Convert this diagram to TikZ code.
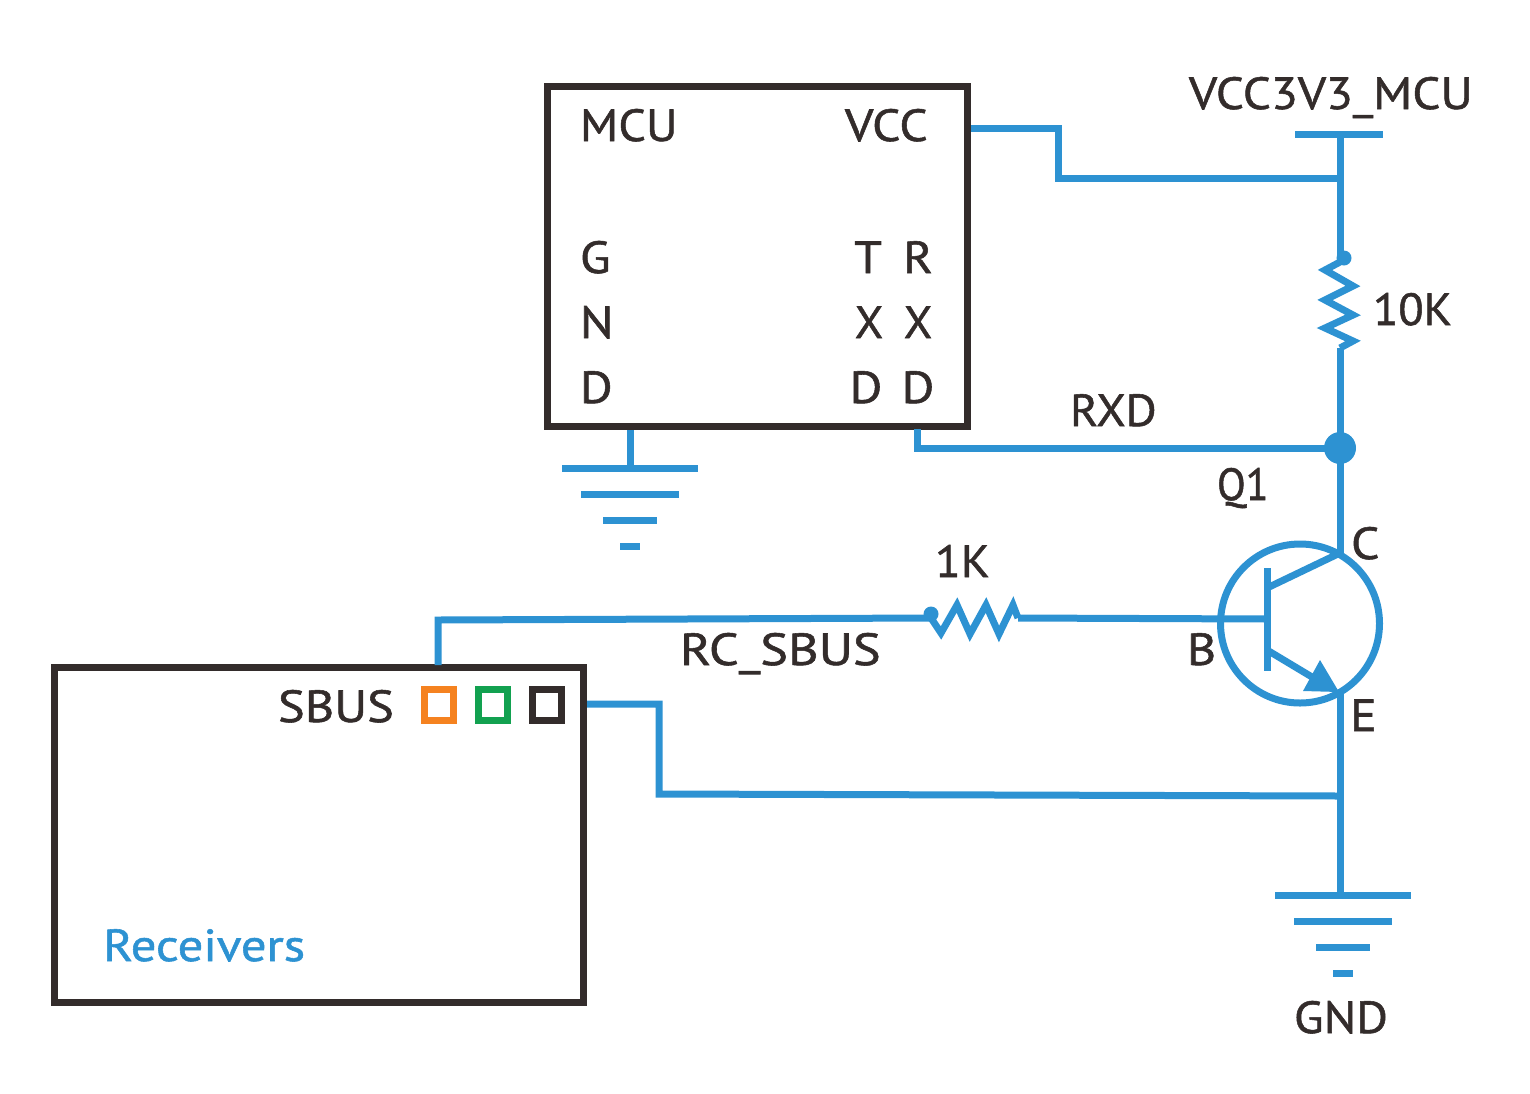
\documentclass[tikz,border=0pt]{standalone}
\usepackage{graphicx}
\usepackage{fontspec}
\setmainfont[FakeStretch=1.11,FakeBold=1.2]{PT Sans}
\definecolor{wire}{HTML}{2D92D2}
\definecolor{ink}{HTML}{332C2B}
\definecolor{sqorange}{HTML}{F58220}
\definecolor{sqgreen}{HTML}{12A150}
\tikzset{
  x=1pt,y=-1pt,
  wireline/.style={draw=wire,line width=7pt,line join=miter,miter limit=10},
  boxshape/.style={draw=ink,line width=7pt,rectangle,inner sep=0,outer sep=0},
  sq/.style={rectangle,line width=7pt,minimum width=29pt,minimum height=31pt,inner sep=0,outer sep=0},
  lbl/.style={text=ink,anchor=base west,inner sep=0,outer sep=0,font=\fontsize{45}{45}\selectfont},
  clbl/.style={lbl,anchor=base},
  dotnode/.style={circle,fill=wire,inner sep=0,outer sep=0},
}
\begin{document}
\begin{tikzpicture}
\useasboundingbox (0,0) rectangle (1530,1093);
% boxes
\node[boxshape,minimum width=420pt,minimum height=340pt] (mcu) at (757,256.5) {};
\node[boxshape,minimum width=529pt,minimum height=335pt] (rx) at (319,834.5) {};
\node[sq,draw=sqorange] (s1) at (439,705) {};
\node[sq,draw=sqgreen] (s2) at (493,705) {};
\node[sq,draw=ink] (s3) at (547,705) {};
% transistor
\node[circle,draw=wire,line width=7pt,minimum size=159pt,inner sep=0,outer sep=0] (q) at (1300,623.5) {};
% key points
\coordinate (vccpin) at (971,128);
\coordinate (vccbend1) at (1058,128);
\coordinate (vccbend2) at (1058,178);
\coordinate (vcctee) at (1340,178);
\coordinate (vcctop) at (1340,134);
\coordinate (vccl) at (1295,134);
\coordinate (vccr) at (1383,134);
\coordinate (r1top) at (1340,262);
\coordinate (r1bot) at (1340,348);
\node[dotnode,minimum size=32pt] (junc) at (1340,448) {};
\coordinate (rxdpin) at (917,429);
\coordinate (rxdbend) at (917,448);
\coordinate (cpt) at (1340,553);
\coordinate (ept) at (1339,692);
\coordinate (etop) at (1340,692);
\coordinate (bar1) at (1267,568);
\coordinate (bar2) at (1267,671);
\coordinate (gndtee) at (1340,796);
\coordinate (g2top) at (1340,895);
\coordinate (rxpwr) at (587,704);
\coordinate (rxb1) at (659,704);
\coordinate (rxb2) at (659,794);
\coordinate (sbusup) at (438,665);
\coordinate (sbusb) at (438,620);
\node[dotnode,minimum size=15pt] (r2dot) at (931,614) {};
\node[dotnode,minimum size=15pt] (r1dot) at (1344,258) {};
\coordinate (r2a) at (931,618);
\coordinate (r2b) at (1018,618);
\coordinate (bpt) at (1267,619);
% wires
\draw[wireline] (vccpin) -- (vccbend1) -- (vccbend2) -- (vcctee);
\draw[wireline] (vccl) -- (vccr);
\draw[wireline] (vcctop) -- (r1top);
\draw[wireline] (r1top) -- (1325,270) -- (1353,286) -- (1325,300) -- (1353,315) -- (1325,328) -- (1353,341) -- (r1bot);
\draw[wireline] (r1bot) -- (junc.center) -- (cpt);
\draw[wireline] (rxdpin) -- (rxdbend) -- (junc.center);
% transistor internals
\draw[wireline] (bar1) -- (bar2);
\draw[wireline] (1267,588) -- (cpt);
\draw[wireline] (1267,650) -- (1322,683);
\fill[wire] (ept) -- (1303,691) -- (1320,660) -- cycle;
\draw[wireline] (etop) -- (gndtee) -- (g2top);
\draw[wireline] (rxpwr) -- (rxb1) -- (rxb2) -- (gndtee);
% sbus
\draw[wireline] (sbusup) -- (sbusb) -- (r2a);
\draw[wireline] (r2a) -- (941,633) -- (957,605) -- (970,634) -- (986,605) -- (999,634) -- (1013,605) -- (r2b);
\draw[wireline] (r2b) -- (bpt);
% grounds
\coordinate (g1top) at (630,430);
\coordinate (g1a) at (630,468);
\draw[wireline] (g1top) -- (g1a);
\draw[wireline] (562,468) -- (698,468);
\draw[wireline] (581,494) -- (679,494);
\draw[wireline] (603,520) -- (657,520);
\draw[wireline] (620,546) -- (640,546);
\draw[wireline] (1275,895) -- (1411,895);
\draw[wireline] (1294,921) -- (1392,921);
\draw[wireline] (1316,947) -- (1370,947);
\draw[wireline] (1333,973) -- (1353,973);
% labels
\node[lbl] (tmcu) at (580,141) {\scalebox{0.97}[1]{MCU}};
\node[lbl] (tvcc) at (845,141) {VCC};
\node[lbl] (tg) at (580,273) {G};
\node[lbl] (tn) at (580,338) {N};
\node[lbl] (td) at (580,403) {D};
\node[clbl] (tt) at (868,273) {T};
\node[clbl] (tx) at (869,338) {\scalebox{0.92}[1]{X}};
\node[clbl] (td2) at (866,403) {D};
\node[clbl] (tr) at (918,273) {R};
\node[clbl] (tx2) at (918,338) {\scalebox{0.92}[1]{X}};
\node[clbl] (td3) at (918,403) {D};
\node[lbl] (tvcc3) at (1189,109) {\scalebox{0.99}[1]{VCC3V3\_MCU}};
\node[lbl] (t10k) at (1373,325) {\scalebox{0.93}[1]{10K}};
\node[lbl] (trxd) at (1070,426) {\scalebox{0.95}[1]{RXD}};
\node[lbl] (tq1) at (1217,500) {\scalebox{0.84}[1]{Q1}};
\node[lbl] (tc) at (1351,559) {C};
\node[lbl] (t1k) at (935,577) {\scalebox{0.95}[1]{1K}};
\node[lbl] (trc) at (680,665) {\scalebox{1.05}[1]{RC\_SBUS}};
\node[lbl] (tb) at (1187,665) {B};
\node[lbl] (te) at (1350,731) {E};
\node[lbl] (tsbus) at (278,722) {\scalebox{1.01}[1]{SBUS}};
\node[lbl,text=wire] (trcv) at (103,961) {\scalebox{1.015}[1]{Receivers}};
\node[lbl] (tgnd) at (1294,1033) {\scalebox{0.97}[1]{GND}};
\end{tikzpicture}
\end{document}
